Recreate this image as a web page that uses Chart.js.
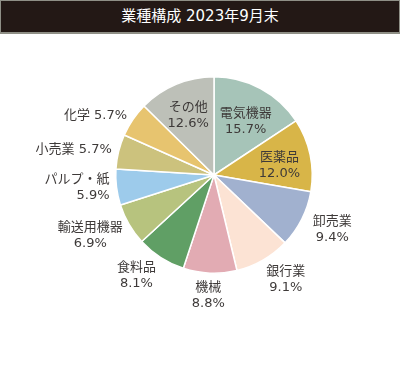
<!DOCTYPE html>
<html lang="ja">
<head>
  <meta charset="UTF-8" />
  <title>業種構成 2023年9月末</title>
  <script src="https://cdn.jsdelivr.net/npm/chart.js"></script>
  <style>
    html, body { margin: 0; padding: 0; background: #ffffff; }
    #wrap { position: relative; width: 400px; height: 382px; overflow: hidden; }
    #titleBar {
      position: absolute; left: 0; top: 0; width: 398px; height: 31px;
      background: #231815; border: 1px solid #8f8f86; border-bottom-width: 2px;
      color: #ffffff; font-family: "DejaVu Sans", "Noto Sans CJK JP", sans-serif; font-size: 15px;
      line-height: 31px; text-align: center;
    }
    #chartBox { position: absolute; left: 0; top: 0; width: 400px; height: 382px; }
  </style>
</head>
<body>
  <div id="wrap">
    <div id="chartBox"><canvas id="grafico"></canvas></div>
    <div id="titleBar">業種構成 2023年9月末</div>
  </div>

  <script>
    // データ(時計回り、12時の位置から)
    const categorias = ['電気機器', '医薬品', '卸売業', '銀行業', '機械', '食料品', '輸送用機器', 'パルプ・紙', '小売業', '化学', 'その他'];
    const porcentagens = [15.7, 12.0, 9.4, 9.1, 8.8, 8.1, 6.9, 5.9, 5.7, 5.7, 12.6];
    const cores = ['#a6c4b8', '#d8b548', '#a1b1cf', '#fce3d4', '#e2abb3', '#609f65', '#b7c37e', '#9dcbeb', '#ccc27d', '#e7c46f', '#bdc0b8'];

    const corTexto = '#3e3a39';
    const fonte = '13px "DejaVu Sans", "Noto Sans CJK JP", sans-serif';

    // ラベル描画
    const rotulos = {
      id: 'rotulos',
      afterDatasetsDraw(chart) {
        const ctx = chart.ctx;
        const meta = chart.getDatasetMeta(0);
        ctx.save();
        ctx.font = fonte;
        ctx.fillStyle = corTexto;
        ctx.textBaseline = 'middle';
        meta.data.forEach((arc, i) => {
          const p = arc.getProps(['x', 'y', 'startAngle', 'endAngle', 'outerRadius']);
          const meio = (p.startAngle + p.endAngle) / 2;
          const cos = Math.cos(meio), sin = Math.sin(meio);
          const R = p.outerRadius;
          const nome = categorias[i];
          const valor = porcentagens[i].toFixed(1) + '%';
          const lh = 16;

          if (porcentagens[i] >= 12) {
            // dentro da fatia
            const x = p.x + cos * R * 0.68;
            const y = p.y + sin * R * 0.66 + (cos > 0 ? 4 : 0);
            ctx.textAlign = 'center';
            ctx.fillText(nome, x, y - lh / 2);
            ctx.fillText(valor, x, y + lh / 2);
          } else if (porcentagens[i] < 6.5) {
            // fatias pequenas à esquerda, alinhadas à direita
            const x = p.x + cos * (R + 7);
            const y = p.y + sin * (R + 7);
            ctx.textAlign = 'right';
            if (nome.length <= 3) {
              ctx.fillText(nome + ' ' + valor, x, y);
            } else {
              ctx.fillText(nome, x, y - lh / 2);
              ctx.fillText(valor, x, y + lh / 2);
            }
          } else {
            const w = ctx.measureText(nome).width;
            const rx = R + 22 + 0.7 * w * Math.abs(sin);
            const ry = R + 22;
            const x = p.x + cos * rx;
            const y = p.y + sin * ry;
            ctx.textAlign = 'center';
            ctx.fillText(nome, x, y - lh / 2);
            ctx.fillText(valor, x, y + lh / 2);
          }
        });
        ctx.restore();
      }
    };

    new Chart(document.getElementById('grafico').getContext('2d'), {
      type: 'pie',
      data: {
        labels: categorias,
        datasets: [{
          data: porcentagens,
          backgroundColor: cores,
          borderColor: '#ffffff',
          borderWidth: 1.5
        }]
      },
      options: {
        responsive: true,
        maintainAspectRatio: false,
        animation: false,
        layout: { padding: { left: 115, right: 87, top: 76, bottom: 108 } },
        plugins: {
          legend: { display: false },
          tooltip: { enabled: false }
        }
      },
      plugins: [rotulos]
    });
  </script>
</body>
</html>
